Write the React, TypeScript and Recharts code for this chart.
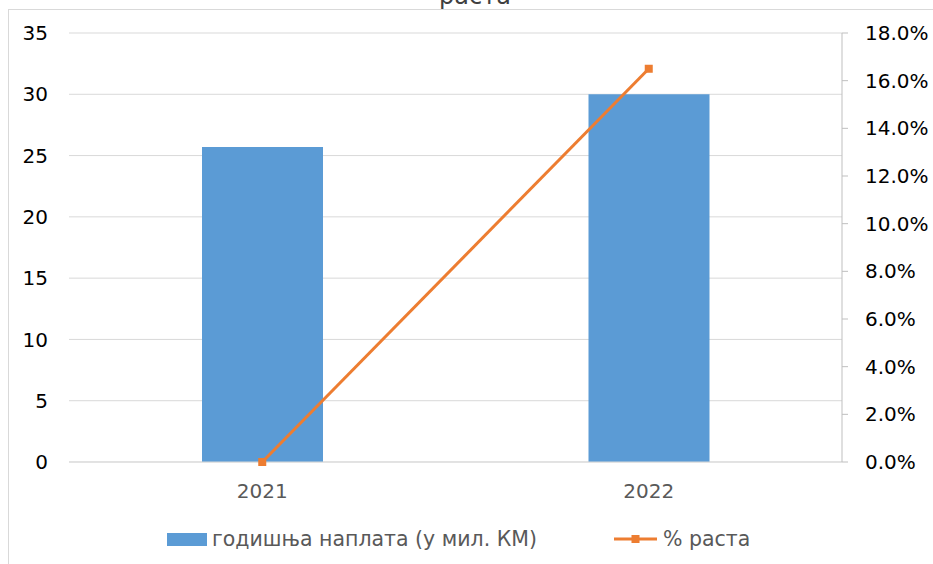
import React from 'react';
import { ComposedChart, Bar, Line, XAxis, YAxis, CartesianGrid, Legend } from 'recharts';

const years = ['2021', '2022'];
const collection = [25.7, 30.0];
const growth = [0, 16.5];
const leftTicks = [0, 5, 10, 15, 20, 25, 30, 35];
const rightTicks = [0, 2, 4, 6, 8, 10, 12, 14, 16, 18];

const BAR_COLOR = '#5B9BD5';
const LINE_COLOR = '#ED7D31';
const FONT = '"DejaVu Sans", sans-serif';

const chartData = years.map((year, i) => ({
  year,
  collection: collection[i],
  growth: growth[i],
}));

const SquareDot = (props: any) => {
  const { cx, cy, index } = props;
  if (cx == null || cy == null) return null;
  return <rect key={`dot-${index}`} x={cx - 4} y={cy - 4} width={8} height={8} fill={LINE_COLOR} />;
};

const renderLegend = () => (
  <div style={{ position: 'relative', width: 933, height: 50, fontFamily: FONT, fontSize: 20.5, color: '#595959' }}>
    <div style={{ position: 'absolute', left: 167, top: 0, height: 50, display: 'flex', alignItems: 'center' }}>
      <span style={{ display: 'inline-block', width: 40, height: 13, background: BAR_COLOR, marginRight: 5 }} />
      <span>годишња наплата (у мил. КМ)</span>
    </div>
    <div style={{ position: 'absolute', left: 614, top: 0, height: 50, display: 'flex', alignItems: 'center' }}>
      <svg width={43} height={12} style={{ marginRight: 6 }}>
        <line x1={0} y1={6} x2={43} y2={6} stroke={LINE_COLOR} strokeWidth={3} />
        <rect x={17.5} y={2} width={8} height={8} fill={LINE_COLOR} />
      </svg>
      <span>% раста</span>
    </div>
  </div>
);

export default function App() {
  return (
    <div style={{ position: 'fixed', left: 0, top: 0, width: 933, height: 564, overflow: 'hidden', background: '#fff' }}>
      <div
        style={{
          position: 'absolute',
          left: 8,
          top: 9,
          width: 960,
          height: 600,
          borderLeft: '1px solid #d9d9d9',
          borderTop: '1px solid #d9d9d9',
        }}
      />
      <svg width={933} height={20} style={{ position: 'absolute', left: 0, top: 0 }}>
        <text x={475} y={4} textAnchor="middle" fontFamily={FONT} fontSize={24} fill="#404040">
          раста
        </text>
      </svg>
      <div style={{ position: 'absolute', left: 0, top: 0 }}>
        <ComposedChart
          width={933}
          height={564}
          data={chartData}
          margin={{ top: 33, right: 0, left: 0, bottom: 0 }}
          style={{ fontFamily: FONT }}
        >
          <CartesianGrid yAxisId="left" vertical={false} stroke="#d9d9d9" />
          <XAxis
            dataKey="year"
            height={52}
            axisLine={{ stroke: '#d9d9d9' }}
            tickLine={false}
            tickMargin={16}
            tick={{ fill: '#595959', fontSize: 20 }}
          />
          <YAxis
            yAxisId="left"
            width={69}
            domain={[0, 35]}
            ticks={leftTicks}
            axisLine={false}
            tickLine={false}
            tickMargin={15}
            tick={{ fill: '#000', fontSize: 20 }}
          />
          <YAxis
            yAxisId="right"
            orientation="right"
            width={91}
            domain={[0, 18]}
            ticks={rightTicks}
            axisLine={{ stroke: '#bfbfbf' }}
            tickLine={{ stroke: '#bfbfbf' }}
            tickSize={6}
            tickMargin={17}
            tickFormatter={(v: number) => `${v.toFixed(1)}%`}
            tick={{ fill: '#000', fontSize: 20 }}
          />
          <Bar yAxisId="left" dataKey="collection" fill={BAR_COLOR} barSize={121} isAnimationActive={false} />
          <Line
            yAxisId="right"
            dataKey="growth"
            stroke={LINE_COLOR}
            strokeWidth={3}
            dot={SquareDot}
            activeDot={false}
            isAnimationActive={false}
          />
          <Legend verticalAlign="bottom" height={50} content={renderLegend} />
        </ComposedChart>
      </div>
    </div>
  );
}
